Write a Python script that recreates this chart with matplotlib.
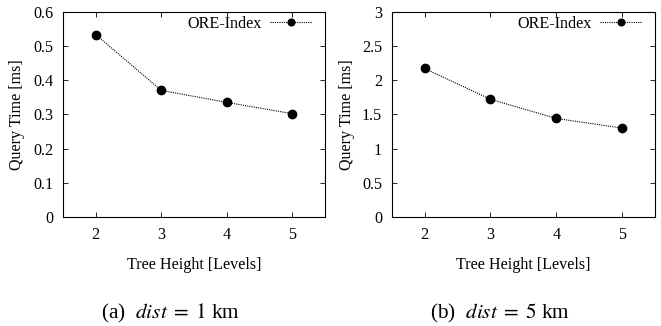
import matplotlib
matplotlib.use("Agg")
import matplotlib.pyplot as plt

heights = [2, 3, 4, 5]
time_1km = [0.533, 0.370, 0.335, 0.302]
time_5km = [2.17, 1.72, 1.44, 1.30]
series_label = "ORE-Index"
captions = [r"(a)  $dist\;=\;1$ km", r"(b)  $dist\;=\;5$ km"]
yticks_a = [0, 0.1, 0.2, 0.3, 0.4, 0.5, 0.6]
yticks_b = [0, 0.5, 1, 1.5, 2, 2.5, 3]

plt.rcParams['font.family'] = ['Liberation Serif', 'DejaVu Serif']
plt.rcParams['mathtext.fontset'] = 'stix'
FS = 11.6

fig = plt.figure(figsize=(6.61, 3.26), dpi=100)
W, H = 661, 326

def make_ax(left_px, right_px, data, yticks, ylim, caption, cap_x, ylab_x):
    wpx = right_px - left_px
    hpx = 217 - 11.7
    ax = fig.add_axes([left_px / W, 1 - 217 / H, wpx / W, hpx / H])
    ax.plot(heights, data, color='black', linestyle=(0, (1, 1)), linewidth=0.8,
            marker='o', markersize=6, label=series_label)
    ax.set_xlim(1.5, 5.5)
    ax.set_ylim(*ylim)
    ax.set_xticks(heights)
    ax.set_yticks(yticks)
    ax.set_yticklabels([f"{t:g}" for t in yticks])
    ax.tick_params(direction='in', top=True, right=True, length=3.5, width=0.6,
                   labelsize=FS, pad=7)
    for s in ax.spines.values():
        s.set_linewidth(0.8)
    ax.set_xlabel("Tree Height [Levels]", fontsize=FS, labelpad=10)
    ax.set_ylabel("Query Time [ms]", fontsize=FS)
    ax.yaxis.set_label_coords((ylab_x - left_px) / wpx, 0.5)
    ax.legend(loc='upper right', frameon=False, markerfirst=False, handlelength=2.6,
              fontsize=FS, borderaxespad=0.1, handletextpad=0.5, markerscale=0.8,
              bbox_to_anchor=(1 - 5 / wpx, 1 + 4 / hpx))
    fig.text(cap_x / W, 1 - 313 / H, caption, ha='center', va='center', fontsize=15.3)
    return ax

make_ax(63, 325, time_1km, yticks_a, (0, 0.6), captions[0], 170, 25)
make_ax(391.7, 655, time_5km, yticks_b, (0, 3), captions[1], 500, 355)

fig.savefig("out.png", dpi=100)
